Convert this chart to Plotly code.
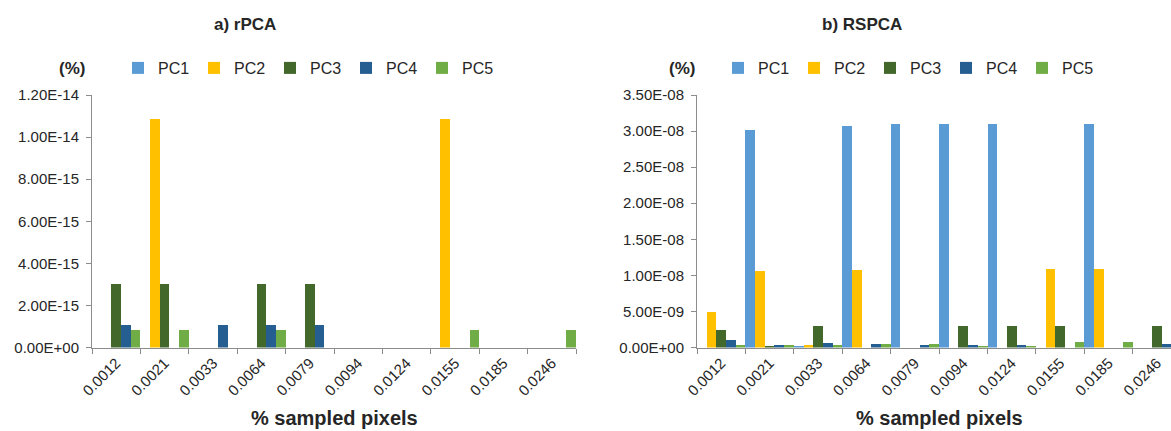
import plotly.graph_objects as go

W, H = 1171, 431

categories = ["0.0012", "0.0021", "0.0033", "0.0064", "0.0079",
              "0.0094", "0.0124", "0.0155", "0.0185", "0.0246"]
series_names = ["PC1", "PC2", "PC3", "PC4", "PC5"]
series_colors = ["#5B9BD5", "#FFC000", "#43682B", "#255E91", "#70AD47"]

# a) rPCA  (%)
rpca_pc1 = [0, 0, 0, 0, 0, 0, 0, 0, 0, 0]
rpca_pc2 = [0, 1.086e-14, 0, 0, 0, 0, 0, 1.086e-14, 0, 0]
rpca_pc3 = [3.0e-15, 3.0e-15, 0, 3.0e-15, 3.0e-15, 0, 0, 0, 0, 0]
rpca_pc4 = [1.09e-15, 0, 1.09e-15, 1.09e-15, 1.09e-15, 0, 0, 0, 0, 0]
rpca_pc5 = [0.82e-15, 0.82e-15, 0, 0.82e-15, 0, 0, 0, 0.82e-15, 0, 0.82e-15]

# b) RSPCA  (%)
rspca_pc1 = [0, 3.017e-08, 0.1e-09, 3.07e-08, 3.095e-08, 3.105e-08, 3.105e-08, 0, 3.095e-08, 0]
rspca_pc2 = [4.89e-09, 1.056e-08, 0.32e-09, 1.075e-08, 0, 0, 0, 1.084e-08, 1.084e-08, 0]
rspca_pc3 = [2.4e-09, 0.2e-09, 3.04e-09, 0, 0, 3.04e-09, 3.04e-09, 3.04e-09, 0, 3.04e-09]
rspca_pc4 = [1.0e-09, 0.3e-09, 0.65e-09, 0.42e-09, 0.28e-09, 0.3e-09, 0.3e-09, 0, 0, 0.55e-09]
rspca_pc5 = [0.28e-09, 0.3e-09, 0.28e-09, 0.46e-09, 0.46e-09, 0.2e-09, 0.25e-09, 0.75e-09, 0.75e-09, 0]

rpca_ticks = [0, 2e-15, 4e-15, 6e-15, 8e-15, 1.0e-14, 1.2e-14]
rspca_ticks = [0, 5e-09, 1.0e-08, 1.5e-08, 2.0e-08, 2.5e-08, 3.0e-08, 3.5e-08]

panel_titles = ["a) rPCA", "b) RSPCA"]
y_unit = "(%)"
x_title = "% sampled pixels"

rpca = [rpca_pc1, rpca_pc2, rpca_pc3, rpca_pc4, rpca_pc5]
rspca = [rspca_pc1, rspca_pc2, rspca_pc3, rspca_pc4, rspca_pc5]

FONT = "Liberation Sans, Arial, sans-serif"
AXIS_COLOR = "#8C8C8C"
TEXT_COLOR = "#262626"

fig = go.Figure()
for name, color, vals in zip(series_names, series_colors, rpca):
    fig.add_trace(go.Bar(x=categories, y=vals, name=name, marker_color=color,
                         marker_line_width=0, xaxis="x", yaxis="y",
                         legend="legend"))
for name, color, vals in zip(series_names, series_colors, rspca):
    fig.add_trace(go.Bar(x=categories, y=vals, name=name, marker_color=color,
                         marker_line_width=0, xaxis="x2", yaxis="y2",
                         legend="legend2"))

y_dom = [(H - 347.5) / H, (H - 95) / H]

xcommon = dict(type="category", showline=True, linecolor=AXIS_COLOR, linewidth=1,
               ticks="outside", ticklen=5, tickcolor=AXIS_COLOR, tickson="boundaries",
               tickangle=-45, showgrid=False, zeroline=False, automargin=False,
               tickfont=dict(family=FONT, size=15, color=TEXT_COLOR),
               fixedrange=True)
ycommon = dict(showline=True, linecolor=AXIS_COLOR, linewidth=1, ticks="outside",
               ticklen=5, tickcolor=AXIS_COLOR, showgrid=False, zeroline=False,
               automargin=False,
               tickfont=dict(family=FONT, size=15, color=TEXT_COLOR),
               ticklabelstandoff=4, fixedrange=True)

legend_common = dict(orientation="h", xanchor="left", y=1 - 68 / H, yanchor="middle",
                     entrywidth=31, entrywidthmode="pixels",
                     font=dict(family=FONT, size=16, color=TEXT_COLOR),
                     bgcolor="rgba(0,0,0,0)", borderwidth=0, traceorder="normal")

fig.update_layout(
    width=W, height=H,
    margin=dict(l=0, r=0, t=0, b=0, autoexpand=False),
    paper_bgcolor="white", plot_bgcolor="white",
    barmode="group", bargap=0, bargroupgap=0,
    font=dict(family=FONT, color=TEXT_COLOR),
    xaxis=dict(domain=[92 / W, 576 / W], anchor="y", range=[-0.5, 9.5], **xcommon),
    xaxis2=dict(domain=[697 / W, 1.0], anchor="y2", range=[-0.5, 9.29], **xcommon),
    yaxis=dict(domain=y_dom, anchor="x", range=[0, rpca_ticks[-1]],
               tickvals=rpca_ticks, ticktext=[f"{v:.2E}" for v in rpca_ticks], **ycommon),
    yaxis2=dict(domain=y_dom, anchor="x2", range=[0, rspca_ticks[-1]],
                tickvals=rspca_ticks, ticktext=[f"{v:.2E}" for v in rspca_ticks], **ycommon),
    legend=dict(x=118 / W, **legend_common),
    legend2=dict(x=718 / W, **legend_common),
    showlegend=True,
)

annotations = []
for title, cx in zip(panel_titles, [245, 862]):
    annotations.append(dict(text=f"<b>{title}</b>", x=cx / W, y=1 - 25 / H, xref="paper",
                            yref="paper", showarrow=False, xanchor="center", yanchor="middle",
                            font=dict(family=FONT, size=17, color=TEXT_COLOR)))
for cx in [72, 682]:
    annotations.append(dict(text=f"<b>{y_unit}</b>", x=cx / W, y=1 - 68 / H, xref="paper",
                            yref="paper", showarrow=False, xanchor="center", yanchor="middle",
                            font=dict(family=FONT, size=17, color=TEXT_COLOR)))
for cx in [334, 939]:
    annotations.append(dict(text=f"<b>{x_title}</b>", x=cx / W, y=1 - 418 / H, xref="paper",
                            yref="paper", showarrow=False, xanchor="center", yanchor="middle",
                            font=dict(family=FONT, size=20, color=TEXT_COLOR)))
fig.update_layout(annotations=annotations)

fig.write_html("out.html", config={"displayModeBar": False})
